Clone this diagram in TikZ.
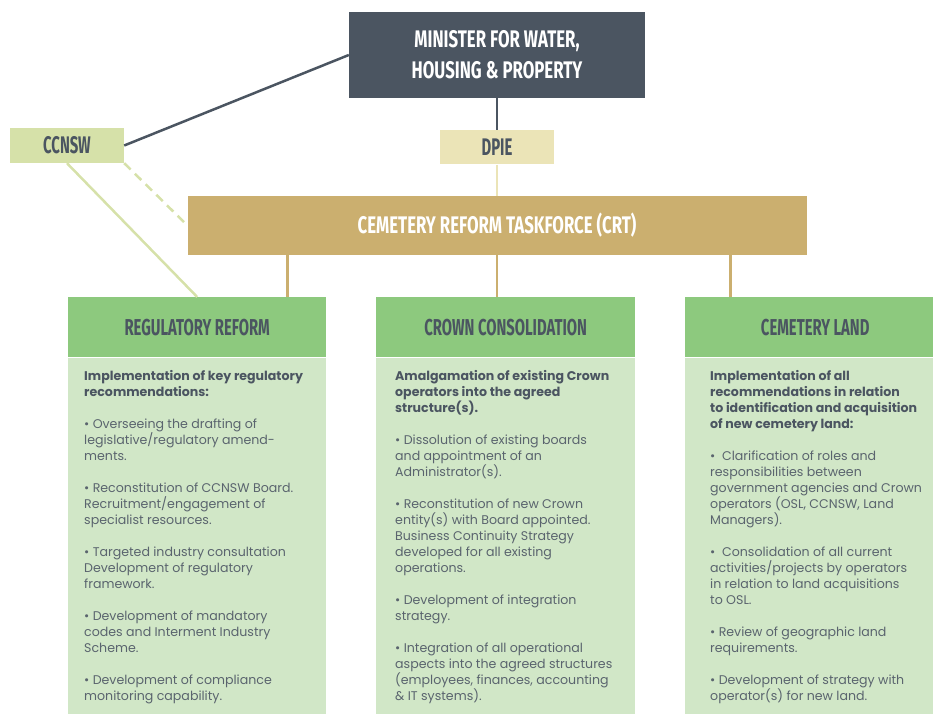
\documentclass[tikz,border=0pt]{standalone}
\usepackage{fontspec}
\setmainfont{Poppins}
\newfontfamily\headfont[FakeStretch=0.62]{Fira Sans}
\newfontfamily\colheadfont[FakeStretch=0.645]{Fira Sans}
\newfontfamily\wideheadfont[FakeStretch=0.70]{Fira Sans}
\usetikzlibrary{positioning, calc}
\definecolor{slate}{HTML}{4B5561}
\definecolor{bodygray}{HTML}{5A646E}
\definecolor{ccnswgreen}{HTML}{D6E1A9}
\definecolor{dpiecream}{HTML}{EBE4B7}
\definecolor{crttan}{HTML}{CBAF6F}
\definecolor{headgreen}{HTML}{8DC97E}
\definecolor{panelgreen}{HTML}{D1E7C7}

\begin{document}
\begin{tikzpicture}[
    x=1pt, y=-1pt,
    box/.style={inner sep=0pt, align=center},
    title/.style={box, font=\headfont\bfseries\fontsize{24}{31}\selectfont},
    bigtitle/.style={box, text=white, font=\wideheadfont\bfseries\fontsize{24}{31}\selectfont},
    colhead/.style={box, fill=headgreen, text=slate, anchor=north west,
                    minimum height=60pt, font=\colheadfont\bfseries\fontsize{23}{28}\selectfont},
    panel/.style={box, fill=panelgreen, anchor=north, minimum height=356pt},
    bodytext/.style={inner sep=0pt, align=left, anchor=north west, text=bodygray,
                     font=\fontsize{12.6}{16}\selectfont},
    ln/.style={line width=2.5pt},
  ]
  \useasboundingbox (0,0) rectangle (933,713);

  % ---- top of the chart
  \node[bigtitle, fill=slate, minimum width=296pt, minimum height=86pt]
    (minister) at (497,55) {MINISTER FOR WATER,\\HOUSING \& PROPERTY};
  \node[title, fill=dpiecream, text=slate, minimum width=114pt, minimum height=34pt,
        below=32pt of minister] (dpie) {DPIE};
  \node[title, fill=ccnswgreen, text=slate, minimum width=114pt, minimum height=35pt]
    (ccnsw) at (67,145.5) {CCNSW};
  \node[bigtitle, fill=crttan, minimum width=619pt, minimum height=59pt,
        below=31pt of dpie] (crt) {CEMETERY REFORM TASKFORCE (CRT)};

  % ---- the three streams
  \node[colhead, minimum width=258pt] (reghead) at (68,297) {REGULATORY REFORM};
  \node[colhead, minimum width=259pt] (crownhead) at (376,297) {CROWN CONSOLIDATION};
  \node[colhead, minimum width=260pt] (landhead) at (685,297) {CEMETERY LAND};

  \node[panel, minimum width=258pt, below=0pt of reghead] (regbody) {};
  \node[panel, minimum width=259pt, below=0pt of crownhead] (crownbody) {};
  \node[panel, minimum width=260pt, below=0pt of landhead] (landbody) {};

  % ---- connectors
  \draw[ln, slate] (minister.west) -- (ccnsw.east);
  \draw[ln, slate] (minister) -- (dpie);
  \draw[ln, dpiecream] (dpie) -- (crt);
  \draw[ln, ccnswgreen] (ccnsw.south) -- (reghead.north);
  \draw[ln, ccnswgreen, dash pattern=on 9pt off 6pt] (ccnsw.south east) -- (crt.west);
  \coordinate (crtA) at ($(crt.south west)!0.1616!(crt.south east)$);
  \coordinate (crtB) at (crt.south);
  \coordinate (crtC) at ($(crt.south west)!0.877!(crt.south east)$);
  \draw[ln, crttan] (crtA) -- (crtA |- reghead.north);
  \draw[ln, crttan] (crtB) -- (crtB |- crownhead.north);
  \draw[ln, crttan] (crtC) -- (crtC |- landhead.north);

  % ---- stream texts
  \node[bodytext, below right=13pt and 16pt of regbody.north west] (regtext)
    {\textbf{\color{slate}Implementation of key regulatory}\\
     \textbf{\color{slate}recommendations:}\\[16pt]
     • Overseeing the drafting of\\legislative/regulatory amend-\\ments.\\[16pt]
     • Reconstitution of CCNSW Board.\\Recruitment/engagement of\\specialist resources.\\[16pt]
     • Targeted industry consultation\\Development of regulatory\\framework.\\[16pt]
     • Development of mandatory\\codes and Interment Industry\\Scheme.\\[16pt]
     • Development of compliance\\monitoring capability.};
  \node[bodytext, below right=13pt and 19pt of crownbody.north west] (crowntext)
    {\textbf{\color{slate}Amalgamation of existing Crown}\\
     \textbf{\color{slate}operators into the agreed}\\
     \textbf{\color{slate}structure(s).}\\[16pt]
     • Dissolution of existing boards\\and appointment of an\\Administrator(s).\\[16pt]
     • Reconstitution of new Crown\\entity(s) with Board appointed.\\Business Continuity Strategy\\developed for all existing\\operations.\\[16pt]
     • Development of integration\\strategy.\\[16pt]
     • Integration of all operational\\aspects into the agreed structures\\(employees, finances, accounting\\\& IT systems).};
  \node[bodytext, below right=13pt and 25pt of landbody.north west] (landtext)
    {\textbf{\color{slate}Implementation of all}\\
     \textbf{\color{slate}recommendations in relation}\\
     \textbf{\color{slate}to identification and acquisition}\\
     \textbf{\color{slate}of new cemetery land:}\\[16pt]
     •\ \ Clarification of roles and\\responsibilities between\\government agencies and Crown\\operators (OSL, CCNSW, Land\\Managers).\\[16pt]
     •\ \ Consolidation of all current\\activities/projects by operators\\in relation to land acquisitions\\to OSL.\\[16pt]
     • Review of geographic land\\requirements.\\[16pt]
     • Development of strategy with\\operator(s) for new land.};
\end{tikzpicture}
\end{document}
